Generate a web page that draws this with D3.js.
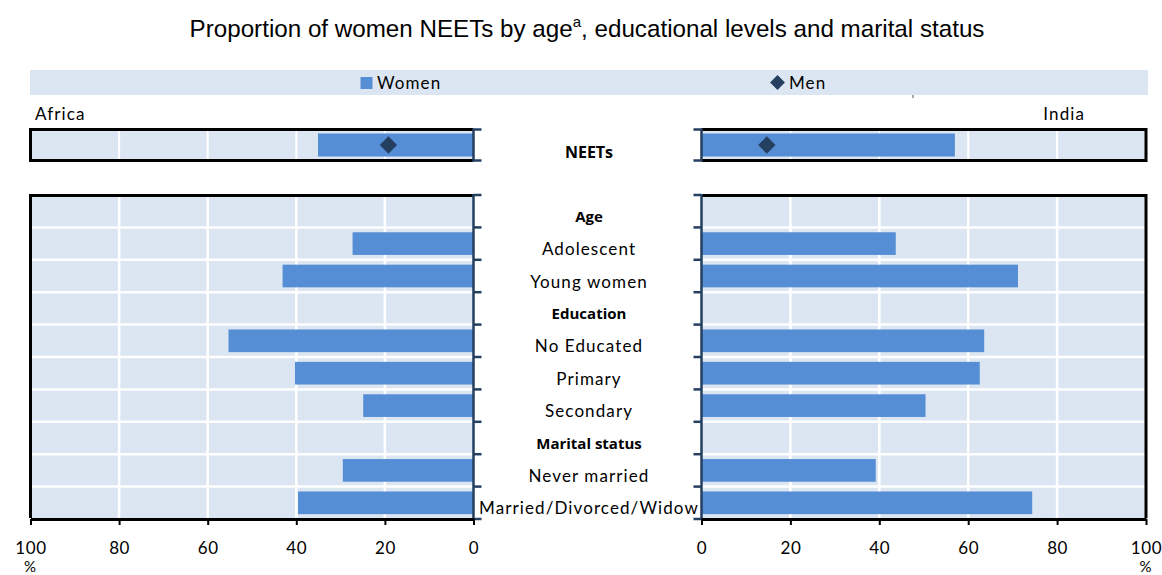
<!DOCTYPE html>
<html>
<head>
<meta charset="utf-8">
<script src="https://cdn.jsdelivr.net/npm/d3@7"></script>
<style>
  body { margin: 0; background: #fff; }
  svg { display: block; }
  .lbl { font-family: Lato, "Open Sans", sans-serif; font-size: 17px; letter-spacing: 1.1px; fill: #000; }
  .hdr { font-family: "Open Sans", Lato, sans-serif; font-size: 15px; font-weight: bold; fill: #000; }
</style>
</head>
<body>
<svg id="chart" width="1162" height="575"></svg>
<script>
// ---- Data ----
const categories = ["Age", "Adolescent", "Young women", "Education", "No Educated", "Primary", "Secondary", "Marital status", "Never married", "Married/Divorced/Widow"];
const headers = ["Age", "Education", "Marital status"];
const africaWomen = [null, 27.3, 43.1, null, 55.3, 40.3, 24.9, null, 29.5, 39.6];
const indiaWomen  = [null, 43.7, 71.2, null, 63.6, 62.6, 50.4, null, 39.2, 74.4];
const neetCategory = ["NEETs"];
const africaNeetWomen = [35.1];
const africaNeetMen = [19.2];
const indiaNeetWomen = [57.0];
const indiaNeetMen = [14.7];
const xTicks = [0, 20, 40, 60, 80, 100];
const legendLabels = ["Women", "Men"];

// ---- Styles ----
const BAR = "#558ed5", BG = "#dce6f2", NAVY = "#243f60", MARK = "#243f60";

const svg = d3.select("#chart");

// Title
const title = svg.append("text")
  .attr("x", 587).attr("y", 37)
  .attr("text-anchor", "middle")
  .style("font-family", "'Liberation Sans', Arial, sans-serif")
  .style("font-size", "24.2px");
title.append("tspan").text("Proportion of women NEETs by age");
title.append("tspan").text("a").attr("dy", -10).style("font-size", "15px");
title.append("tspan").text(", educational levels and marital status").attr("dy", 10);

function diamond(size) {
  return d3.symbol(d3.symbolSquare, size)();
}

// Legend band
svg.append("rect").attr("x", 30).attr("y", 70).attr("width", 1118).attr("height", 25).attr("fill", BG);
svg.append("rect").attr("x", 360.5).attr("y", 77).attr("width", 12).attr("height", 12).attr("fill", BAR);
svg.append("text").attr("class", "lbl").attr("x", 377).attr("y", 89).text(legendLabels[0]);
svg.append("path").attr("d", diamond(110)).attr("transform", "translate(777.5,82.5) rotate(45)").attr("fill", MARK);
svg.append("text").attr("class", "lbl").attr("x", 789).attr("y", 89).text(legendLabels[1]);
svg.append("line").attr("x1", 913).attr("x2", 913).attr("y1", 95).attr("y2", 98).attr("stroke", "#555").attr("stroke-width", 1);

// Panel names
svg.append("text").attr("class", "lbl").attr("x", 35).attr("y", 120).text("Africa");
svg.append("text").attr("class", "lbl").attr("x", 1085).attr("y", 120).attr("text-anchor", "end").text("India");

// Scales
const xL = d3.scaleLinear().domain([0, 100]).range([473.5, 30.5]);
const xR = d3.scaleLinear().domain([0, 100]).range([701.5, 1146]);
const y = d3.scaleBand().domain(categories).range([195, 519]).paddingInner(0.3).paddingOuter(0.15);
const yTop = d3.scaleBand().domain(neetCategory).range([130, 160]).paddingInner(0.2).paddingOuter(0.12);
const step = y.step();
const boundaries = d3.range(0, categories.length + 1).map(i => 195 + i * step);

function panel(x, side, values, neetW, neetM) {
  const x0 = x(0), x100 = x(100);
  const left = Math.min(x0, x100), right = Math.max(x0, x100);
  // ---- top NEETs box ----
  svg.append("rect").attr("x", left).attr("y", 130).attr("width", right - left).attr("height", 30).attr("fill", BG);
  svg.selectAll(null).data(xTicks.filter(t => t > 0 && t < 100)).enter().append("line")
    .attr("x1", d => x(d)).attr("x2", d => x(d)).attr("y1", 130).attr("y2", 160)
    .attr("stroke", "#fff").attr("stroke-width", 2);
  svg.append("rect")
    .attr("x", d3.min([x(neetW[0]), x0])).attr("y", yTop("NEETs"))
    .attr("width", Math.abs(x(neetW[0]) - x0)).attr("height", yTop.bandwidth()).attr("fill", BAR);
  svg.append("path").attr("d", diamond(150))
    .attr("transform", `translate(${x(neetM[0])},${yTop("NEETs") + yTop.bandwidth() / 2}) rotate(45)`).attr("fill", MARK);
  const bx = x100, ix = x0;
  svg.append("path")
    .attr("d", `M${ix},129.5 L${bx},129.5 L${bx},160.5 L${ix},160.5`)
    .attr("fill", "none").attr("stroke", "#000").attr("stroke-width", 3);
  const dir = side === "left" ? 1 : -1;
  svg.append("path")
    .attr("d", `M${ix + dir * 8},129.5 L${ix},129.5 L${ix},160.5 L${ix + dir * 8},160.5`)
    .attr("fill", "none").attr("stroke", NAVY).attr("stroke-width", 2.5);

  // ---- main panel ----
  svg.append("rect").attr("x", left).attr("y", 195).attr("width", right - left).attr("height", 324).attr("fill", BG);
  svg.selectAll(null).data(xTicks.filter(t => t > 0 && t < 100)).enter().append("line")
    .attr("x1", d => x(d)).attr("x2", d => x(d)).attr("y1", 195).attr("y2", 519)
    .attr("stroke", "#fff").attr("stroke-width", 2.5);
  svg.selectAll(null).data(boundaries.slice(1, -1)).enter().append("line")
    .attr("x1", left).attr("x2", right).attr("y1", d => d).attr("y2", d => d)
    .attr("stroke", "#fff").attr("stroke-width", 2.5);
  svg.selectAll(null).data(categories.map((c, i) => ({ c, v: values[i] })).filter(d => d.v != null))
    .enter().append("rect")
    .attr("x", d => Math.min(x(d.v), x0)).attr("y", d => y(d.c))
    .attr("width", d => Math.abs(x(d.v) - x0)).attr("height", y.bandwidth())
    .attr("fill", BAR);
  svg.append("path")
    .attr("d", `M${ix},195.5 L${bx},195.5 L${bx},518`)
    .attr("fill", "none").attr("stroke", "#000").attr("stroke-width", 3);
  svg.append("line").attr("x1", ix).attr("x2", ix).attr("y1", 194).attr("y2", 519)
    .attr("stroke", NAVY).attr("stroke-width", 2.5);
  svg.selectAll(null).data(boundaries).enter().append("line")
    .attr("x1", ix).attr("x2", ix + dir * 8).attr("y1", d => d).attr("y2", d => d)
    .attr("stroke", NAVY).attr("stroke-width", 2.5);
  const ax = svg.append("g").attr("transform", "translate(0,519)")
    .call(d3.axisBottom(x).tickValues(xTicks).tickSize(6).tickSizeOuter(0).tickPadding(17));
  ax.attr("font-family", null).attr("font-size", null);
  ax.select(".domain").attr("stroke", "#000").attr("stroke-width", 3);
  ax.selectAll(".tick line").attr("stroke", "#000").attr("stroke-width", 2);
  ax.selectAll(".tick text").attr("class", "lbl").style("letter-spacing", "0.6px").attr("fill", "#000");
  svg.append("text").attr("class", "lbl").attr("x", x(100)).attr("y", 572).attr("text-anchor", "middle").style("font-size", "15px").text("%");
}

panel(xL, "left", africaWomen, africaNeetWomen, africaNeetMen);
panel(xR, "right", indiaWomen, indiaNeetWomen, indiaNeetMen);

// center labels
svg.append("text").attr("class", "hdr").attr("x", 589).attr("y", 158).attr("text-anchor", "middle").style("font-size", "16px").text(neetCategory[0]);
svg.selectAll(null).data(categories).enter().append("text")
  .attr("class", d => headers.includes(d) ? "hdr" : "lbl")
  .attr("x", 589)
  .attr("y", d => y(d) + y.bandwidth() / 2 + (headers.includes(d) ? 10.5 : 11.5))
  .attr("text-anchor", "middle").text(d => d);
</script>
</body>
</html>
